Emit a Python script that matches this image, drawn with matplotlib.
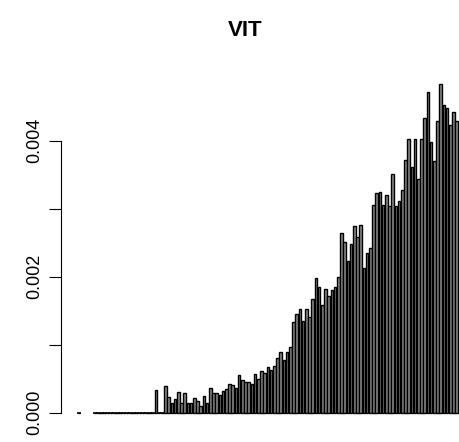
import numpy as np
import matplotlib
matplotlib.use("Agg")
import matplotlib.pyplot as plt

plt.rcParams["font.family"] = ["Liberation Sans", "DejaVu Sans"]

# wartosci (gestosc), kolejne slupki od lewej
title = "VIT"
first_zero = [0.0]             # pierwszy slupek (zerowy)
missing = [np.nan] * 4         # brak danych - nie rysowane
leading_zeros = [0.0] * 19
values = [
    0.331, 0.0, 0.0, 0.394, 0.224, 0.135, 0.199, 0.301, 0.135, 0.291,
    0.135, 0.144, 0.209, 0.169, 0.096, 0.238, 0.135, 0.356, 0.282, 0.291,
    0.253, 0.316, 0.350, 0.419, 0.404, 0.356, 0.547, 0.474, 0.453, 0.449,
    0.419, 0.562, 0.497, 0.615, 0.576, 0.674, 0.625, 0.688, 0.801, 0.890,
    0.772, 0.890, 0.968, 1.335, 1.444, 1.522, 1.350, 1.522, 1.400, 1.674,
    1.971, 1.843, 1.581, 1.813, 1.713, 1.797, 1.846, 1.997, 2.635, 2.503,
    2.228, 2.481, 2.750, 2.581, 2.754, 2.121, 2.346, 2.415, 3.056, 3.224,
    3.247, 3.051, 3.201, 3.040, 3.503, 3.040, 3.113, 3.272, 3.713, 4.022,
    3.615, 4.026, 3.438, 4.018, 4.326, 4.718, 3.974, 3.703, 4.291, 4.831,
    4.522, 4.474, 4.228, 4.415, 4.291,
]
heights = np.array(first_zero + missing + leading_zeros + values) * 1e-3
y_ticks = [0.0, 0.001, 0.002, 0.003, 0.004]
y_labels = ["0.000", "", "0.002", "", "0.004"]

W, H = 459, 442
fig = plt.figure(figsize=(W / 100, H / 100), dpi=100)

# os y przy x=61 px, slupki co 3.2 px
px = 3.2
left_px = 61
bw = 1 / 1.2
ax = fig.add_axes([left_px / W, 12 / H, 1 - left_px / W, 360 / H])

x = np.arange(len(heights))
ok = ~np.isnan(heights)
ax.bar(x[ok], heights[ok], width=bw, color="#8a8a8a",
       edgecolor="black", linewidth=1.0, clip_on=False)

# slupki o wysokosci zero - jako kreski na linii bazowej
zero = ok & (heights == 0)
ax.hlines(heights[zero], x[zero] - bw / 2 - 0.2, x[zero] + bw / 2 + 0.2,
          color="black", linewidth=1.2, clip_on=False)

x0 = -0.5 / 1.2 - (77.8 - left_px) / px
ax.set_xlim(x0, x0 + (W - left_px) / px)
ax.set_ylim(-17.5 / 68000, 342.5 / 68000)

for s in ["top", "right", "bottom"]:
    ax.spines[s].set_visible(False)
ax.spines["left"].set_bounds(0, 0.004)
ax.spines["left"].set_linewidth(0.8)
ax.set_xticks([])
ax.set_yticks(y_ticks)
ax.set_yticklabels(y_labels, fontsize=13)
ax.tick_params(axis="y", length=8.5, width=0.8, pad=4)
for lab in ax.get_yticklabels():
    lab.set_rotation(90)
    lab.set_va("center")

fig.text(245 / W, 1 - 30 / H, title, ha="center", va="center",
         fontsize=16, fontweight="bold")

fig.savefig("out.png", dpi=100)
